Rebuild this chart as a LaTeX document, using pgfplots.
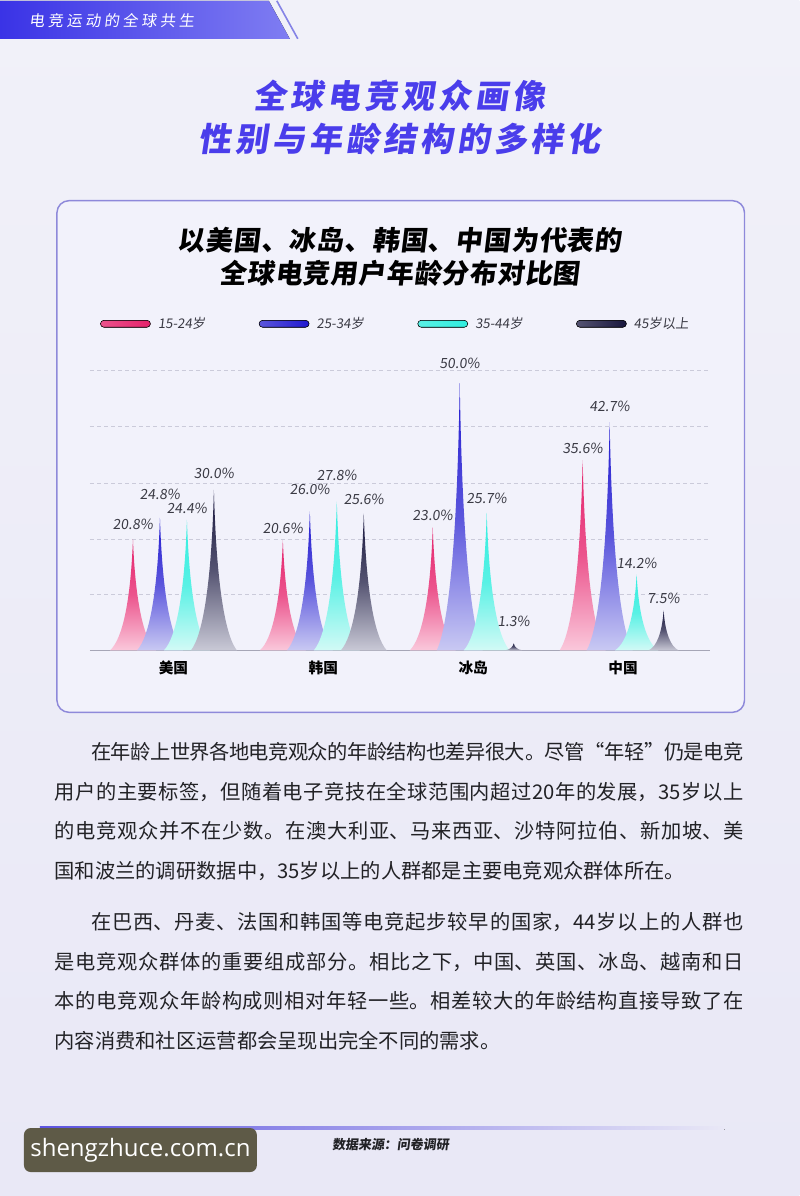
\documentclass[border=0pt]{standalone}
\usepackage{fontspec}
\usepackage{pgfplots}
\pgfplotsset{compat=1.18}
\usepackage{pgfplotstable}
\setmainfont{Noto Sans CJK SC}
\newfontfamily\cjk{Noto Sans CJK SC}
\newfontfamily\cjksl{Noto Sans CJK SC}[FakeSlant=0.12]
\newfontfamily\titlefont{Noto Sans CJK SC}[FakeSlant=0.15,LetterSpace=12]
\newfontfamily\ctitlefont{Noto Sans CJK SC}[FakeSlant=0.12,LetterSpace=3]
\newfontfamily\headfont{Noto Sans CJK SC}[FakeSlant=0.12,LetterSpace=22]
\newfontfamily\wmfont{Open Sans}
\XeTeXlinebreaklocale "zh"
\XeTeXlinebreakskip=0pt plus 3pt minus 0.6pt
\tolerance=9999
\hbadness=10000

\definecolor{bgtop}{HTML}{F1F1F9}
\definecolor{bgbot}{HTML}{E9E8F6}
\definecolor{hdA}{HTML}{3A33E6}
\definecolor{hdB}{HTML}{7F7DF2}
\definecolor{hdline}{HTML}{8583E6}
\definecolor{titlec}{HTML}{4A3DEB}
\definecolor{cardborder}{HTML}{8E89DA}
\definecolor{cardfill}{HTML}{F2F2FB}
\definecolor{gridc}{HTML}{CBCBDA}
\definecolor{basec}{HTML}{A6A6B6}
\definecolor{labc}{HTML}{3A3A44}
\definecolor{bodyc}{HTML}{222226}
\definecolor{wm}{HTML}{5E5A47}
\definecolor{ftA}{HTML}{5C53E0}
\definecolor{pinkA}{HTML}{E5226B}
\definecolor{pinkB}{HTML}{FAC8DB}
\definecolor{blueA}{HTML}{2018D0}
\definecolor{blueB}{HTML}{C9C9F3}
\definecolor{cyanA}{HTML}{30EEDF}
\definecolor{cyanB}{HTML}{D2FAF6}
\definecolor{navyA}{HTML}{17153C}
\definecolor{navyB}{HTML}{C9C9D6}

\pgfdeclareplotmark{nothing}{}

% values (%), and label lift (px) for each series
\pgfplotstableread{
cat a    b    c    d    la lb lc ld
0   20.8 24.8 24.4 30.0 3  12 0  5
1   20.6 26.0 27.8 25.6 0  10 15 3
2   23.0 50.0 25.7 1.3  0  8  3  10
3   35.6 42.7 14.2 7.5  0  4  0  0
}\agedata

\pgfplotsset{
  spike/.style n args={3}{
    scatter, only marks, mark=nothing,
    visualization depends on={rawy \as \vy},
    scatter/@pre marker code/.code={%
      \pgfkeys{/pgf/fpu=false}%
      \pgfmathsetmacro\hh{\vy*4.0125}%
      \pgfmathsetmacro\ww{min(17.25,5.6+0.75*\vy)}%
      \pgfmathsetmacro\ca{0.1*\ww}\pgfmathsetmacro\cb{-0.55*\hh}%
      \pgfmathsetmacro\cc{0.45*\ww}\pgfmathsetmacro\cd{-0.9*\hh}%
      \path[draw=none, top color=#1, bottom color=#2, middle color=#3]
        (0pt,0pt) .. controls (-\ca pt,\cb pt) and (-\cc pt,\cd pt) .. (-\ww pt,-\hh pt)
        -- (\ww pt,-\hh pt) .. controls (\cc pt,\cd pt) and (\ca pt,\cb pt) .. (0pt,0pt) -- cycle;
    },
    scatter/@post marker code/.code={},
    legend image code/.code={\fill[left color=#3, right color=#1, rounded corners=2.6pt] (0pt,-2.6pt) rectangle (37.5pt,2.6pt);},
  },
  pctlabel/.style={
    forget plot, only marks, mark=none, point meta=explicit,
    nodes near coords={\pgfmathprintnumber[fixed,fixed zerofill,precision=1,assume math mode=true]{\pgfplotspointmeta}\%},
    every node near coord/.style={text=labc, font=\cjksl\fontsize{10.5}{11}\selectfont, anchor=south, inner sep=1pt, yshift=3.5pt},
  }
}

\begin{document}
\begin{tikzpicture}[x=0.75pt,y=-0.75pt]
\fill[top color=bgtop,bottom color=bgbot] (0,0) rectangle (800,1196);
% header band
\fill[left color=hdA,right color=hdB] (0,0) -- (269,0) -- (290,38) -- (0,38) -- cycle;
\draw[hdline, line width=1.2pt] (277,0) -- (298,38);
\node[text=white, font=\headfont\fontsize{11.5}{12}\selectfont, anchor=west, inner sep=0pt] at (29,20) {电竞运动的全球共生};
% main title
\node[text=titlec, font=\titlefont\bfseries\fontsize{24.75}{30}\selectfont] at (400,95) {全球电竞观众画像};
\node[text=titlec, font=\titlefont\bfseries\fontsize{24.75}{30}\selectfont] at (400,138) {性别与年龄结构的多样化};
% card
\draw[cardborder, line width=1.1pt, fill=cardfill, rounded corners=9pt] (57,200) rectangle (745,712);
\node[text=black, font=\ctitlefont\bfseries\fontsize{20.25}{24}\selectfont] at (400,240) {以美国、冰岛、韩国、中国为代表的};
\node[text=black, font=\ctitlefont\bfseries\fontsize{20.25}{24}\selectfont] at (400,273) {全球电竞用户年龄分布对比图};

\begin{axis}[
  at={(67.5pt,-487.5pt)}, anchor=south west,
  x=112.5pt, y=4.0125pt,
  xmin=-0.557, xmax=3.577, ymin=0, ymax=52.3,
  clip=false,
  axis line style={draw=none},
  xtick={0,1,2,3},
  xticklabels={美国,韩国,冰岛,中国},
  xticklabel style={anchor=center, yshift=-13.5pt, font=\cjk\bfseries\fontsize{11}{12}\selectfont, text=black},
  ytick={10.4,20.8,31.3,41.8,52.3},
  yticklabels={},
  major tick length=0pt,
  ymajorgrids,
  grid style={dash pattern=on 3pt off 2.3pt, color=gridc, line width=0.6pt},
  extra y ticks={0},
  extra y tick labels={},
  extra y tick style={grid style={solid, color=basec, line width=1pt}},
  legend columns=4,
  legend style={at={(0,1)}, anchor=west, xshift=7.5pt, yshift=35.25pt,
    draw=none, fill=none, inner sep=0pt,
    font=\cjksl\fontsize{10}{11}\selectfont, text=labc,
    nodes={inner sep=0pt},
    /tikz/every odd column/.append style={column sep=5.5pt},
    /tikz/every even column/.append style={column sep=40pt}},
]
\addplot[spike={pinkA}{pinkB}{pinkA!70!pinkB}] table[x expr=\thisrow{cat}-0.27, y=a] {\agedata};
\addlegendentry{15-24岁}
\addplot[spike={blueA}{blueB}{blueA!65!blueB}] table[x expr=\thisrow{cat}-0.09, y=b] {\agedata};
\addlegendentry{25-34岁}
\addplot[spike={cyanA}{cyanB}{cyanA!75!cyanB}] table[x expr=\thisrow{cat}+0.09, y=c] {\agedata};
\addlegendentry{35-44岁}
\addplot[spike={navyA}{navyB}{navyA!65!navyB}] table[x expr=\thisrow{cat}+0.27, y=d] {\agedata};
\addlegendentry{45岁以上}
% value labels (lifted by la..ld px where they would collide)
\addplot[pctlabel] table[x expr=\thisrow{cat}-0.27, y expr=\thisrow{a}+\thisrow{la}/5.35, meta=a] {\agedata};
\addplot[pctlabel] table[x expr=\thisrow{cat}-0.09, y expr=\thisrow{b}+\thisrow{lb}/5.35, meta=b] {\agedata};
\addplot[pctlabel] table[x expr=\thisrow{cat}+0.09, y expr=\thisrow{c}+\thisrow{lc}/5.35, meta=c] {\agedata};
\addplot[pctlabel] table[x expr=\thisrow{cat}+0.27, y expr=\thisrow{d}+\thisrow{ld}/5.35, meta=d] {\agedata};
\end{axis}

% body text
\node[anchor=north west, inner sep=0pt, text width=517pt, align=justify, text=bodyc,
  font=\cjk\fontsize{15.2}{29.7}\selectfont] at (54.5,742) {\hspace*{1.8em}在年龄上世界各地电竞观众的年龄结构也差异很大。尽管“年轻”仍是电竞\linebreak 用户的主要标签，但随着电子竞技在全球范围内超过20年的发展，35岁以上\linebreak 的电竞观众并不在少数。在澳大利亚、马来西亚、沙特阿拉伯、新加坡、美\linebreak 国和波兰的调研数据中，35岁以上的人群都是主要电竞观众群体所在。};
\node[anchor=north west, inner sep=0pt, text width=517pt, align=justify, text=bodyc,
  font=\cjk\fontsize{15.2}{29.7}\selectfont] at (54.5,912) {\hspace*{1.8em}在巴西、丹麦、法国和韩国等电竞起步较早的国家，44岁以上的人群也\linebreak 是电竞观众群体的重要组成部分。相比之下，中国、英国、冰岛、越南和日\linebreak 本的电竞观众年龄构成则相对年轻一些。相差较大的年龄结构直接导致了在\linebreak 内容消费和社区运营都会呈现出完全不同的需求。};

% footer
\fill[left color=ftA, right color=bgbot] (40,1126.5) rectangle (725,1129.5);
\fill[wm, rounded corners=5pt] (24,1128) rectangle (257,1172);
\node[text=white, font=\wmfont\fontsize{18}{20}\selectfont] at (140.5,1150) {shengzhuce.com.cn};
\node[font=\cjksl\bfseries\fontsize{9.75}{10}\selectfont, text=bodyc] at (391,1145) {数据来源：问卷调研};
\end{tikzpicture}
\end{document}
